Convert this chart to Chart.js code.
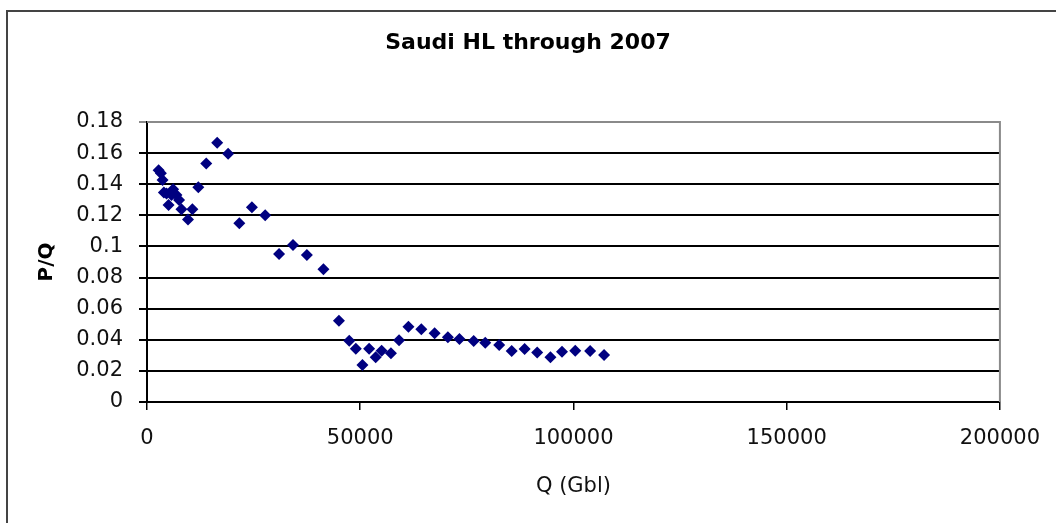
<!DOCTYPE html>
<html>
<head>
<meta charset="utf-8">
<script src="https://cdn.jsdelivr.net/npm/chart.js@4/dist/chart.umd.min.js"></script>
<style>
  html, body { margin: 0; padding: 0; background: #fff; }
  #wrap { width: 1056px; height: 523px; position: relative; }
</style>
</head>
<body>
<div id="wrap"><canvas id="c" width="1056" height="523"></canvas></div>
<script>
// ---- data ----
const chartTitle = 'Saudi HL through 2007';
const xAxisTitle = 'Q (Gbl)';
const yAxisTitle = 'P/Q';
const cumulativeQ = [
  2720, 3260, 3650, 3960, 4580, 5050, 5740, 6130, 6910, 7520,
  8070, 9620, 10640, 12030, 13900, 16460, 19020, 21650, 24600, 27710,
  30970, 34230, 37490, 41370, 45010, 47420, 48970, 50520, 52080, 53620,
  55020, 57200, 59100, 61300, 64330, 67450, 70550, 73270, 76600, 79320,
  82580, 85520, 88550, 91500, 94600, 97320, 100420, 103910, 107170
];
const ratioPQ = [
  0.149, 0.147, 0.1427, 0.1346, 0.1341, 0.1266, 0.1331, 0.1367, 0.1331, 0.1299,
  0.1239, 0.1174, 0.1239, 0.138, 0.1534, 0.1667, 0.1596, 0.1149, 0.1252, 0.120,
  0.0951, 0.1009, 0.0945, 0.0853, 0.0523, 0.0394, 0.0343, 0.0238, 0.0343, 0.0287,
  0.033, 0.0313, 0.0397, 0.0484, 0.0467, 0.0442, 0.0416, 0.0405, 0.0392, 0.0381,
  0.0366, 0.0328, 0.0341, 0.0319, 0.0287, 0.0323, 0.033, 0.0328, 0.0302
];
const xTickValues = [0, 50000, 100000, 150000, 200000];
const xTickLabels = ['0', '50000', '100000', '150000', '200000'];
const yTickValues = [0, 0.02, 0.04, 0.06, 0.08, 0.1, 0.12, 0.14, 0.16, 0.18];
const yTickLabels = ['0', '0.02', '0.04', '0.06', '0.08', '0.1', '0.12', '0.14', '0.16', '0.18'];

const points = cumulativeQ.map((q, i) => ({ x: q, y: ratioPQ[i] }));

function labelFor(values, labels, v) {
  for (let i = 0; i < values.length; i++) {
    if (Math.abs(values[i] - v) < 1e-9 * Math.max(1, Math.abs(v))) return labels[i];
  }
  return '';
}

const FONT = 'DejaVu Sans';

const framePlugin = {
  id: 'frame',
  beforeDraw(chart) {
    const ctx = chart.ctx;
    ctx.save();
    ctx.fillStyle = '#ffffff';
    ctx.fillRect(0, 0, chart.width, chart.height);
    ctx.strokeStyle = '#444444';
    ctx.lineWidth = 2;
    ctx.beginPath();
    ctx.moveTo(7, chart.height + 5);
    ctx.lineTo(7, 11);
    ctx.lineTo(chart.width + 5, 11);
    ctx.stroke();
    ctx.restore();
  },
  beforeDatasetsDraw(chart) {
    const a = chart.chartArea;
    const ctx = chart.ctx;
    ctx.save();
    ctx.strokeStyle = '#8a8a8a';
    ctx.lineWidth = 2;
    ctx.beginPath();
    ctx.moveTo(a.left, a.top);
    ctx.lineTo(a.right, a.top);
    ctx.lineTo(a.right, a.bottom);
    ctx.stroke();
    ctx.restore();
  }
};

new Chart(document.getElementById('c'), {
  type: 'scatter',
  data: {
    datasets: [{
      label: 'P/Q',
      data: points,
      pointStyle: 'rectRot',
      pointRadius: 6,
      pointHoverRadius: 6,
      backgroundColor: '#000080',
      borderColor: '#000080',
      borderWidth: 0
    }]
  },
  options: {
    responsive: false,
    animation: false,
    events: [],
    layout: { padding: { left: 50, right: 50, top: 0, bottom: 0 } },
    plugins: {
      legend: { display: false },
      tooltip: { enabled: false },
      title: {
        display: true,
        text: chartTitle,
        color: '#000',
        font: { family: FONT, size: 22, weight: 'bold', lineHeight: 1.2 },
        padding: { top: 29.8, bottom: 65.8 }
      }
    },
    scales: {
      x: {
        type: 'linear',
        min: 0,
        max: 200000,
        afterBuildTicks(scale) { scale.ticks = xTickValues.map(v => ({ value: v })); },
        afterFit(scale) { scale.height = 121; },
        ticks: {
          color: '#111',
          font: { family: FONT, size: 21, lineHeight: 1.2 },
          padding: 16,
          maxRotation: 0,
          autoSkip: false,
          callback: (v) => labelFor(xTickValues, xTickLabels, v)
        },
        grid: {
          drawOnChartArea: false,
          drawTicks: true,
          tickLength: 8,
          color: '#000',
          lineWidth: 1.5
        },
        border: { display: true, color: '#000', width: 2 },
        title: {
          display: true,
          text: xAxisTitle,
          color: '#111',
          font: { family: FONT, size: 21, lineHeight: 1.2 },
          padding: { top: 0, bottom: 24 }
        }
      },
      y: {
        type: 'linear',
        min: 0,
        max: 0.18,
        afterBuildTicks(scale) { scale.ticks = yTickValues.map(v => ({ value: v })); },
        afterFit(scale) { scale.width = 97; },
        ticks: {
          color: '#111',
          font: { family: FONT, size: 21, lineHeight: 1.2 },
          padding: 16,
          autoSkip: false,
          callback: (v) => labelFor(yTickValues, yTickLabels, v)
        },
        grid: {
          drawOnChartArea: true,
          drawTicks: true,
          tickLength: 8,
          color: (c) => (c.tick && Math.abs(c.tick.value - 0.18) < 1e-9) ? '#8a8a8a' : '#000',
          lineWidth: 2
        },
        border: { display: true, color: '#000', width: 2 },
        title: {
          display: true,
          text: yAxisTitle,
          color: '#000',
          font: { family: FONT, size: 20, weight: 'bold', lineHeight: 1.2 },
          padding: { top: -15, bottom: 0 }
        }
      }
    }
  },
  plugins: [framePlugin]
});
</script>
</body>
</html>
